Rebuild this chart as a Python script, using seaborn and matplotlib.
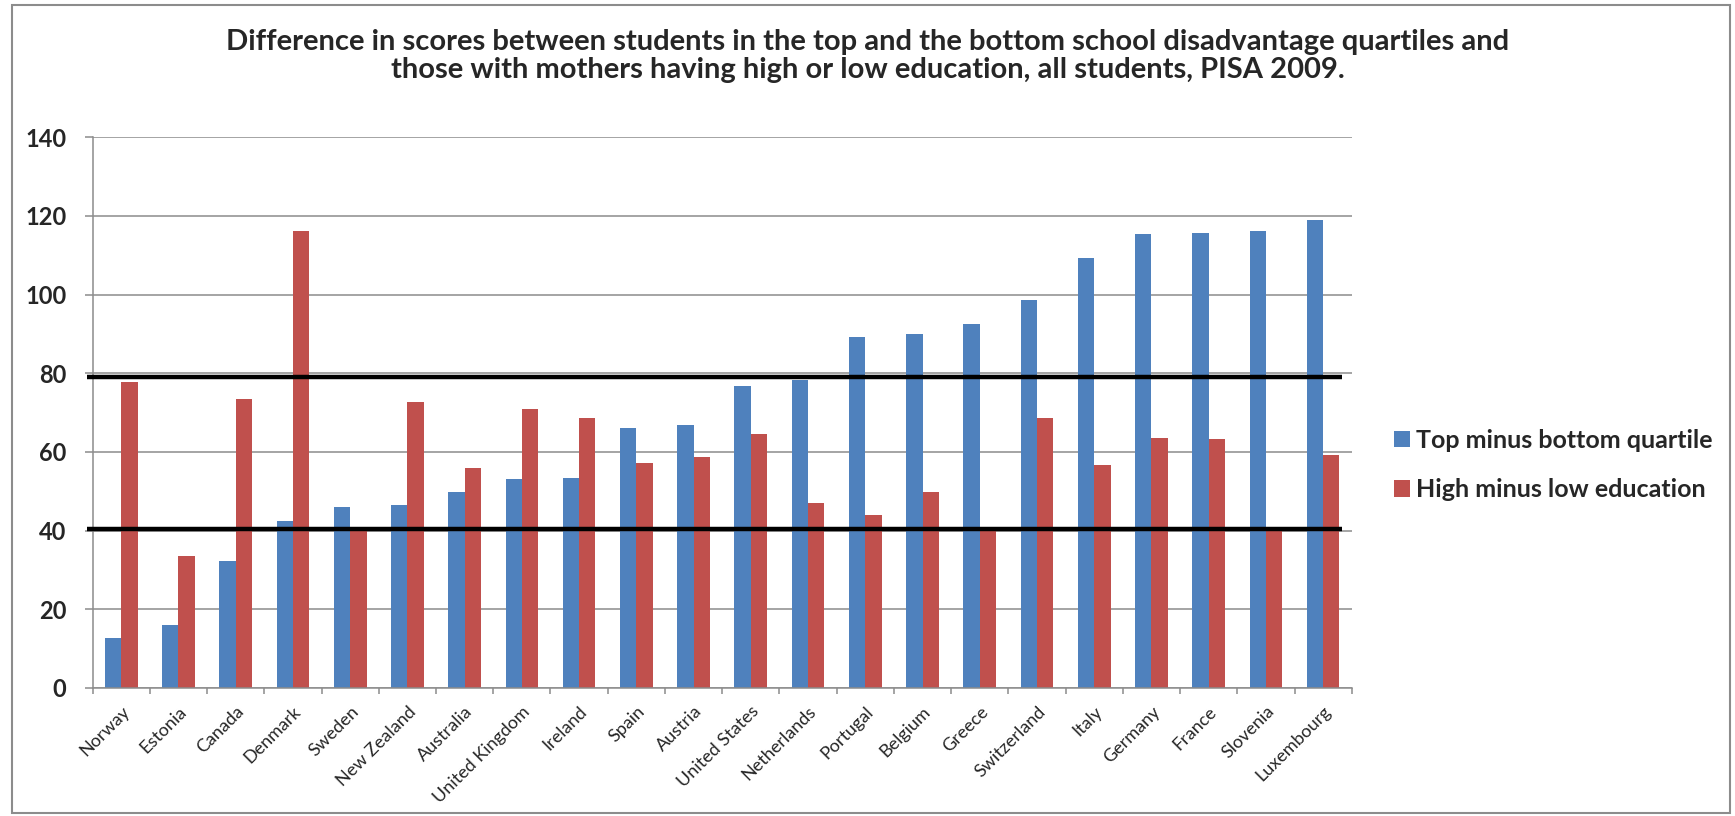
import matplotlib
matplotlib.use("Agg")
import matplotlib.pyplot as plt
import matplotlib.transforms as mtransforms
from matplotlib.patches import Rectangle
import numpy as np
import pandas as pd
import seaborn as sns

countries = ["Norway", "Estonia", "Canada", "Denmark", "Sweden", "New Zealand",
             "Australia", "United Kingdom", "Ireland", "Spain", "Austria",
             "United States", "Netherlands", "Portugal", "Belgium", "Greece",
             "Switzerland", "Italy", "Germany", "France", "Slovenia", "Luxembourg"]
top_minus_bottom = [12.8, 16.1, 32.3, 42.5, 46.1, 46.5, 49.9, 53.1, 53.5, 66.1, 66.8,
                    76.8, 78.4, 89.2, 90.1, 92.5, 98.6, 109.2, 115.3, 115.8, 116.2, 119.1]
high_minus_low = [77.9, 33.6, 73.5, 116.3, 39.8, 72.7, 55.9, 71.0, 68.6, 57.1, 58.7,
                  64.5, 47.0, 44.1, 49.8, 41.0, 68.6, 56.7, 63.6, 63.3, 40.0, 59.2]
series_names = ["Top minus bottom quartile", "High minus low education"]
reference_levels = [79.0, 40.5]
y_ticks = [0, 20, 40, 60, 80, 100, 120, 140]

BLUE = "#4F81BD"
RED = "#C0504D"
GRID = "#8C8C8C"

sns.set_style("white")
plt.rcParams["font.family"] = ["Lato", "DejaVu Sans"]

df = pd.DataFrame({
    "country": countries * 2,
    "value": top_minus_bottom + high_minus_low,
    "series": [series_names[0]] * len(countries) + [series_names[1]] * len(countries),
})

fig = plt.figure(figsize=(17.35, 8.16), dpi=100)
ax = fig.add_axes([0.0534, 0.1569, 0.7257, 0.6748])

sns.barplot(data=df, x="country", y="value", hue="series", order=countries,
            hue_order=series_names, palette=[BLUE, RED], saturation=1,
            width=0.571, gap=0, linewidth=0, errorbar=None, ax=ax)

ax.set_xlim(-0.5, len(countries) - 0.5)
ax.set_ylim(0, 140)
ax.set_yticks(y_ticks)
ax.set_yticklabels([str(t) for t in y_ticks], fontsize=17, fontweight="bold")
ax.set_xlabel("")
ax.set_ylabel("")

# horizontal gridlines behind the bars
ax.set_axisbelow(True)
ax.yaxis.grid(True, color=GRID, linewidth=1.1)
ax.xaxis.grid(False)

for side in ("top", "right"):
    ax.spines[side].set_visible(False)
for side in ("left", "bottom"):
    ax.spines[side].set_color(GRID)
    ax.spines[side].set_linewidth(1.1)

ax.tick_params(axis="y", left=True, length=6, width=1.1, color=GRID, pad=13)
# category labels at the centres, tick marks on the category boundaries
ax.set_xticks(range(len(countries)))
ax.set_xticklabels(countries, rotation=45, ha="right", va="top",
                   rotation_mode="anchor", fontsize=13)
ax.tick_params(axis="x", which="major", length=0, pad=11)
ax.set_xticks(np.arange(-0.5, len(countries), 1.0), minor=True)
ax.tick_params(axis="x", which="minor", bottom=True, length=4.5, width=1.1,
               color=GRID, direction="out")

# thick black reference lines across the plot
trans = mtransforms.blended_transform_factory(ax.transAxes, ax.transData)
for level in reference_levels:
    ax.plot([-0.0045, 0.992], [level, level], color="black", linewidth=3.2,
            transform=trans, clip_on=False, zorder=5, solid_capstyle="butt")

ax.legend(loc="center left", bbox_to_anchor=(0.8035, 0.430),
          bbox_transform=fig.transFigure, frameon=False,
          prop={"size": 18, "weight": "bold"}, handlelength=0.64,
          handleheight=0.64, handletextpad=0.25, labelspacing=1.05,
          borderpad=0, borderaxespad=0)

fig.text(0.5, 1 - 56 / 816,
         "Difference in scores between students in the top and the bottom school disadvantage quartiles and\n"
         "those with mothers having high or low education, all students, PISA 2009.",
         ha="center", va="center", fontsize=21, fontweight="bold", linespacing=1.1)

# chart frame
fig.patches.append(Rectangle((11.7 / 1735, 1 - 813 / 816), (1730 - 11.7) / 1735,
                             (813 - 5) / 816, transform=fig.transFigure,
                             fill=False, edgecolor="#8C8C8C", linewidth=1.5))

fig.savefig("out.png", dpi=100)
